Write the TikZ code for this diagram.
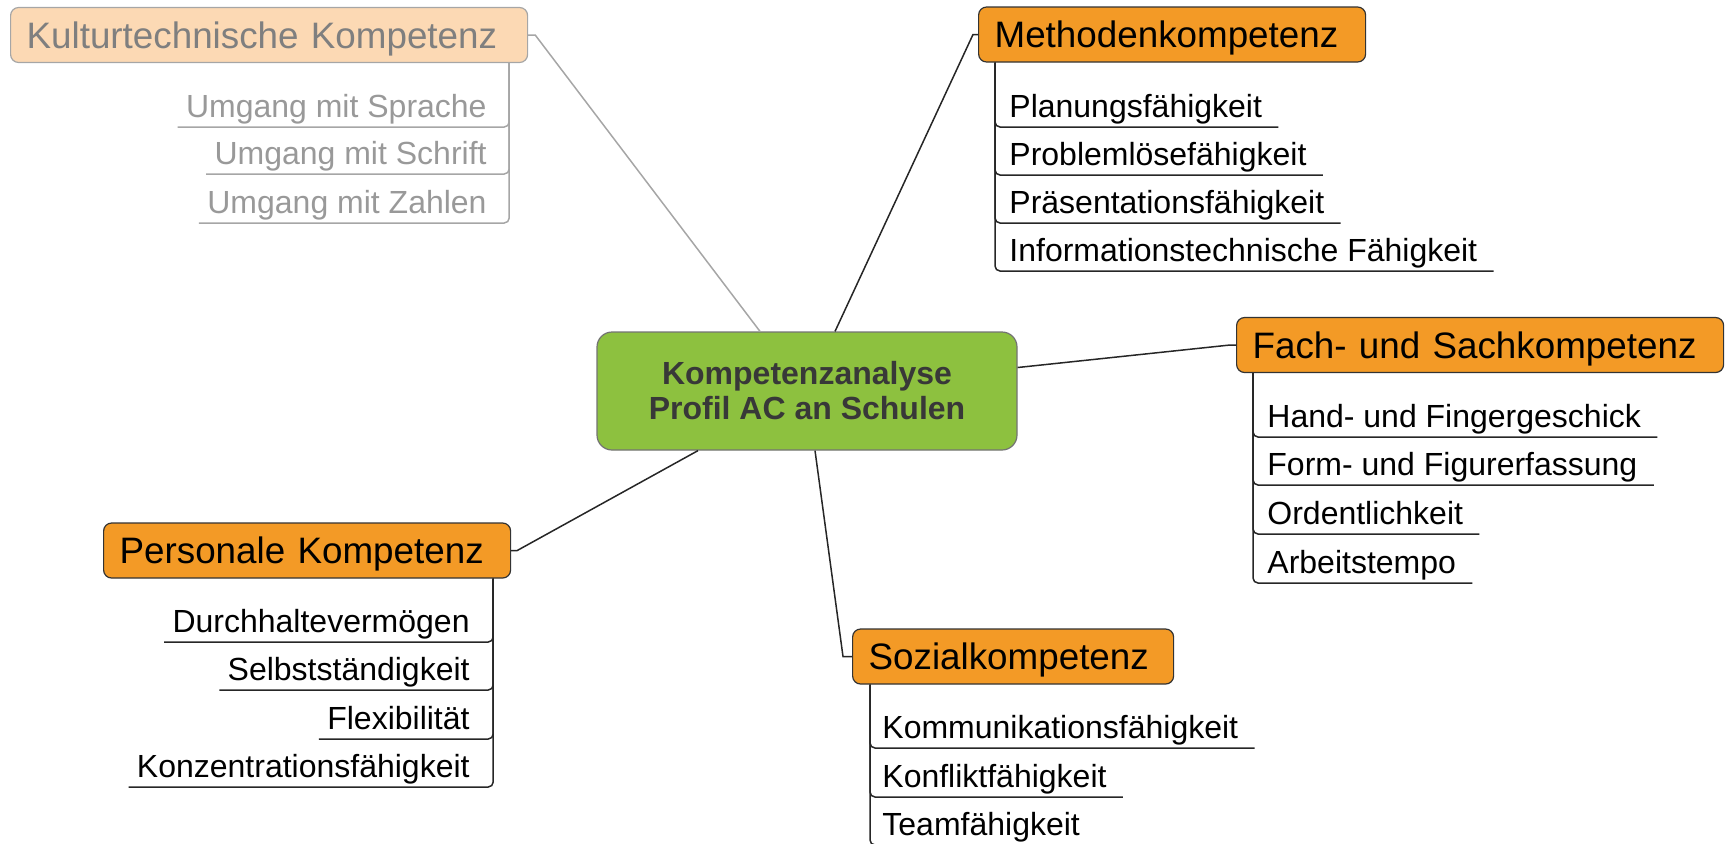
\documentclass[tikz,border=0pt]{standalone}
\usepackage{fontspec}
\setmainfont{Liberation Sans}
\usetikzlibrary{calc, positioning}

\definecolor{topicorange}{HTML}{F39A26}
\definecolor{hubgreen}{HTML}{8DC13F}
\definecolor{fadedfill}{HTML}{FCD9B4}
\definecolor{fadedtext}{HTML}{7F7F7F}
\definecolor{fadedsub}{HTML}{999999}
\definecolor{fadedline}{HTML}{A6A6A6}

\begin{document}
\begin{tikzpicture}[x=0.5pt, y=-0.5pt,
    topic/.style={draw=black!80, fill=topicorange, rounded corners=4pt, line width=0.6pt,
        anchor=west, inner xsep=8pt, inner ysep=0pt, minimum height=27.5pt,
        text height=13.2pt, text depth=0pt, align=left, font=\fontsize{18.4}{21}\selectfont},
    faded/.style={topic, draw=fadedline, fill=fadedfill, text=fadedtext},
    hub/.style={draw=black!55, fill=hubgreen, rounded corners=7.5pt, line width=0.6pt,
        minimum width=210pt, minimum height=59pt, align=center, text=black!78,
        font=\fontsize{16}{17.5}\selectfont\bfseries},
    sub/.style={inner sep=0pt, font=\fontsize{16}{19}\selectfont},
    link/.style={line width=0.75pt, black!85},
    branch/.style={line width=0.75pt, black!85, rounded corners=2.5pt}]
    \useasboundingbox (0,0) rectangle (1727,843);
    \clip (0,0) rectangle (1727,843);

    \node[hub] (hub) at (807,391) {Kompetenzanalyse\\Profil AC an Schulen};

    \node[faded, text width=242.5pt] (kultur) at (10,35) {Kulturtechnische Kompetenz};
    \node[topic, text width=177.5pt] (meth) at (978,34.5) {Methodenkompetenz};
    \node[topic, text width=227.5pt] (fach) at (1236,345) {Fach- und Sachkompetenz};
    \node[topic, text width=187.5pt] (pers) at (103,550.5) {Personale Kompetenz};
    \node[topic, text width=144.5pt] (sozial) at (852,656.5) {Sozialkompetenz};

    \draw[link, fadedline] ([xshift=-23.5pt]hub.north) -- ([xshift=3.5pt]kultur.east) -- (kultur.east);
    \draw[link] ([xshift=14pt]hub.north) -- ([xshift=-2.5pt]meth.west) -- (meth.west);
    \draw[link] ([yshift=11.75pt]hub.east) -- ([xshift=-3pt]fach.west) -- (fach.west);
    \draw[link] ([xshift=-54.5pt]hub.south) -- ([xshift=3pt]pers.east) -- (pers.east);
    \draw[link] ([xshift=4pt]hub.south) -- ([xshift=-4.5pt]sozial.west) -- (sozial.west);

    \node[sub, text=fadedsub, anchor=base east] (kultur1) at (487,117) {Umgang mit Sprache};
    \node[sub, text=fadedsub, anchor=base east] (kultur2) at (487,164) {Umgang mit Schrift};
    \node[sub, text=fadedsub, anchor=base east] (kultur3) at (487,213) {Umgang mit Zahlen};
    \coordinate (kulturspine) at ([xshift=-9.5pt]kultur.south east);
    \foreach \i in {1,...,3}
        \draw[branch, fadedline] (kulturspine) |- ([xshift=-4pt,yshift=-5pt]kultur\i.base west);

    \node[sub, anchor=base west] (meth1) at (1009,117) {Planungsfähigkeit};
    \node[sub, anchor=base west] (meth2) at (1009,165) {Problemlösefähigkeit};
    \node[sub, anchor=base west] (meth3) at (1009,213) {Präsentationsfähigkeit};
    \node[sub, anchor=base west] (meth4) at (1009,261) {Informationstechnische Fähigkeit};
    \coordinate (methspine) at ([xshift=8.5pt]meth.south west);
    \foreach \i in {1,...,4}
        \draw[branch] (methspine) |- ([xshift=8pt,yshift=-5pt]meth\i.base east);

    \node[sub, anchor=base west] (fach1) at (1267,427) {Hand- und Fingergeschick};
    \node[sub, anchor=base west] (fach2) at (1267,475) {Form- und Figurerfassung};
    \node[sub, anchor=base west] (fach3) at (1267,524) {Ordentlichkeit};
    \node[sub, anchor=base west] (fach4) at (1267,573) {Arbeitstempo};
    \coordinate (fachspine) at ([xshift=8.5pt]fach.south west);
    \foreach \i in {1,...,4}
        \draw[branch] (fachspine) |- ([xshift=8pt,yshift=-5pt]fach\i.base east);

    \node[sub, anchor=base east] (pers1) at (470,632) {Durchhaltevermögen};
    \node[sub, anchor=base east] (pers2) at (470,680) {Selbstständigkeit};
    \node[sub, anchor=base east] (pers3) at (470,729) {Flexibilität};
    \node[sub, anchor=base east] (pers4) at (470,777) {Konzentrationsfähigkeit};
    \coordinate (persspine) at ([xshift=-9pt]pers.south east);
    \foreach \i in {1,...,4}
        \draw[branch] (persspine) |- ([xshift=-4pt,yshift=-5pt]pers\i.base west);

    \node[sub, anchor=base west] (sozial1) at (882,738) {Kommunikationsfähigkeit};
    \node[sub, anchor=base west] (sozial2) at (882,787) {Konfliktfähigkeit};
    \node[sub, anchor=base west] (sozial3) at (882,835) {Teamfähigkeit};
    \coordinate (sozialspine) at ([xshift=9pt]sozial.south west);
    \foreach \i in {1,...,3}
        \draw[branch] (sozialspine) |- ([xshift=8pt,yshift=-5pt]sozial\i.base east);
\end{tikzpicture}
\end{document}
